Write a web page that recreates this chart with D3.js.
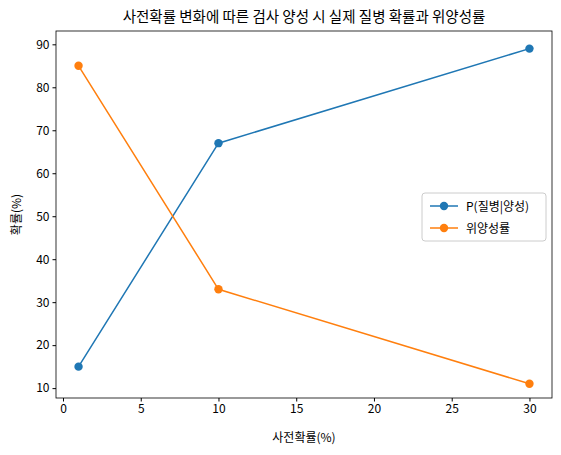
<!DOCTYPE html>
<html><head><meta charset="utf-8">
<script src="https://cdn.jsdelivr.net/npm/d3@7"></script>
<style>body{margin:0;background:#fff}text{font-family:"Noto Sans CJK KR","Noto Sans",sans-serif}</style>
</head><body><div id="chart"></div>
<script>
const prior = [1, 10, 30];
const ppv = [15, 67, 89];
const falsePos = [85, 33, 11];
const xTicks = [0, 5, 10, 15, 20, 25, 30];
const yTicks = [10, 20, 30, 40, 50, 60, 70, 80, 90];

const svg = d3.select("#chart").append("svg").attr("width", 561).attr("height", 455);
const mLeft = 56, mRight = 552, mTop = 31, mBottom = 398;
const x = d3.scaleLinear().domain([-0.45, 31.45]).range([mLeft, mRight]);
const y = d3.scaleLinear().domain([7.7, 93.1]).range([mBottom, mTop]);

svg.append("g").attr("transform", `translate(0,${mBottom})`)
    .call(d3.axisBottom(x).tickValues(xTicks).tickSize(3.5).tickPadding(3))
    .call(g => g.select(".domain").remove())
    .selectAll("text").attr("font-size", 12).attr("fill", "#000");
svg.append("g").attr("transform", `translate(${mLeft},0)`)
    .call(d3.axisLeft(y).tickValues(yTicks).tickSize(3.5).tickPadding(3))
    .call(g => g.select(".domain").remove())
    .selectAll("text").attr("font-size", 12).attr("fill", "#000");
svg.append("rect").attr("x", mLeft).attr("y", mTop).attr("width", mRight - mLeft).attr("height", mBottom - mTop)
    .attr("fill", "none").attr("stroke", "#000").attr("stroke-width", 0.8);

const series = [{ name: "P(질병|양성)", vals: ppv, color: "#1f77b4" },
                { name: "위양성률", vals: falsePos, color: "#ff7f0e" }];
const line = d3.line().x((d, i) => x(prior[i])).y(d => y(d));
series.forEach(s => {
    svg.append("path").attr("d", line(s.vals)).attr("fill", "none").attr("stroke", s.color).attr("stroke-width", 1.5);
    svg.selectAll(null).data(s.vals).enter().append("circle")
        .attr("cx", (d, i) => x(prior[i])).attr("cy", d => y(d)).attr("r", 4.2).attr("fill", s.color);
});

svg.append("text").attr("x", (mLeft + mRight) / 2).attr("y", 22).attr("text-anchor", "middle")
    .attr("font-size", 14.5).text("사전확률 변화에 따른 검사 양성 시 실제 질병 확률과 위양성률");
svg.append("text").attr("x", (mLeft + mRight) / 2).attr("y", 442).attr("text-anchor", "middle")
    .attr("font-size", 12).text("사전확률(%)");
svg.append("text").attr("transform", `translate(21,${(mTop + mBottom) / 2}) rotate(-90)`)
    .attr("text-anchor", "middle").attr("font-size", 12).text("확률(%)");

const lg = svg.append("g").attr("transform", "translate(422,193)");
lg.append("rect").attr("width", 124).attr("height", 48).attr("rx", 3).attr("fill", "#fff")
    .attr("stroke", "#ccc");
series.forEach((s, i) => {
    const yy = 13 + i * 22;
    lg.append("line").attr("x1", 8).attr("x2", 36).attr("y1", yy).attr("y2", yy).attr("stroke", s.color).attr("stroke-width", 1.5);
    lg.append("circle").attr("cx", 22).attr("cy", yy).attr("r", 4.2).attr("fill", s.color);
    lg.append("text").attr("x", 44).attr("y", yy + 4.5).attr("font-size", 12).text(s.name);
});
</script></body></html>
